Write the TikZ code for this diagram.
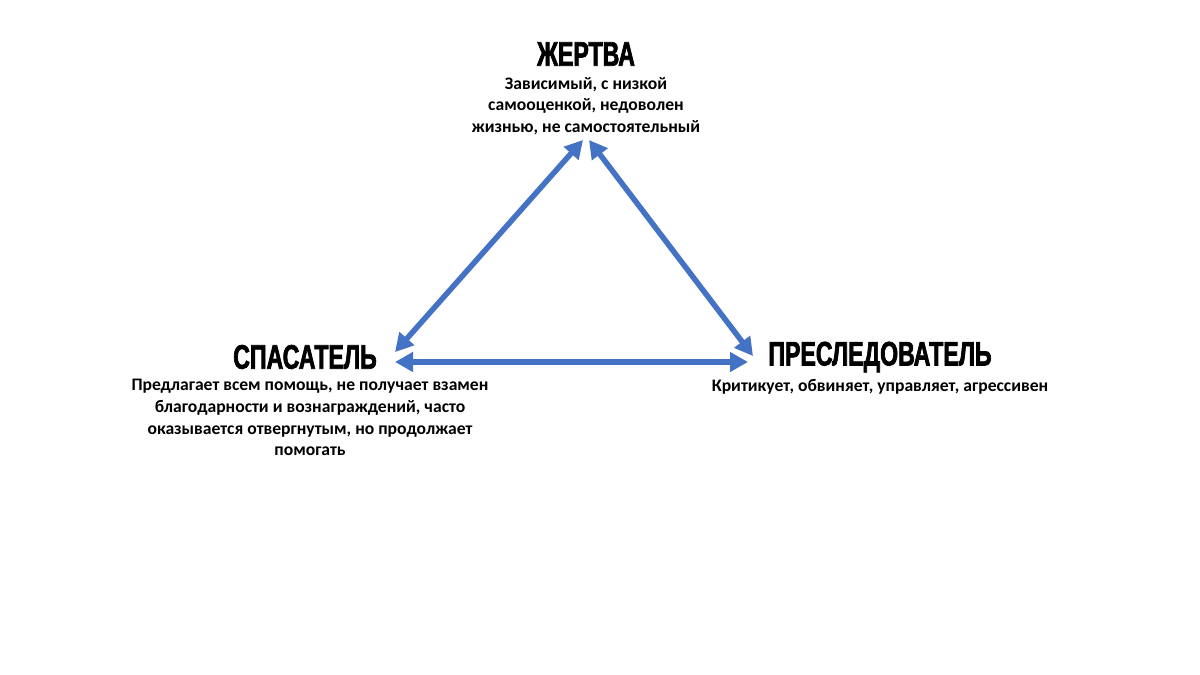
\documentclass[tikz,border=0pt]{standalone}
\usepackage{fontspec}
\usepackage{xcolor}
\usetikzlibrary{arrows.meta}
\setmainfont{Carlito}
\newfontfamily\titlefont[FakeStretch=0.68,FakeBold=2]{Liberation Sans}
\definecolor{linkblue}{HTML}{4472C4}

\begin{document}
\begin{tikzpicture}[x=1pt,y=-1pt,
        role/.style={font=\titlefont\bfseries\fontsize{34}{36}\selectfont,inner sep=0pt},
        about/.style={font=\bfseries\fontsize{17.6}{21.7}\selectfont,align=center,inner sep=0pt},
        link/.style={{Triangle[length=18pt,width=19pt]}-{Triangle[length=18pt,width=19pt]},line width=5.5pt,linkblue}]
        \useasboundingbox (0,0) rectangle (1200,675);
        \node[role] (victim) at (586,54) {ЖЕРТВА};
        \node[about,anchor=north] (victimtext) at (586,77) {Зависимый, с низкой\\самооценкой, недоволен\\жизнью, не самостоятельный};
        \node[role] (rescuer) at (305,357) {СПАСАТЕЛЬ};
        \node[about,anchor=north] (rescuertext) at (310,379) {Предлагает всем помощь, не получает взамен\\благодарности и вознаграждений, часто\\оказывается отвергнутым, но продолжает\\помогать};
        \node[role] (persecutor) at (880,357) {ПРЕСЛЕДОВАТЕЛЬ};
        \node[about,anchor=north] (persecutortext) at (880,379) {Критикует, обвиняет, управляет, агрессивен};
        % arrow ends
        \coordinate (vl) at (583,140);
        \coordinate (vr) at (589,140);
        \coordinate (rt) at (395,352);
        \coordinate (rb) at (395,362);
        \coordinate (pt) at (753,356);
        \coordinate (pb) at (748,362);
        \draw[link] (vl) -- (rt);
        \draw[link] (vr) -- (pt);
        \draw[link] (rb) -- (pb);
      \end{tikzpicture}
\end{document}
